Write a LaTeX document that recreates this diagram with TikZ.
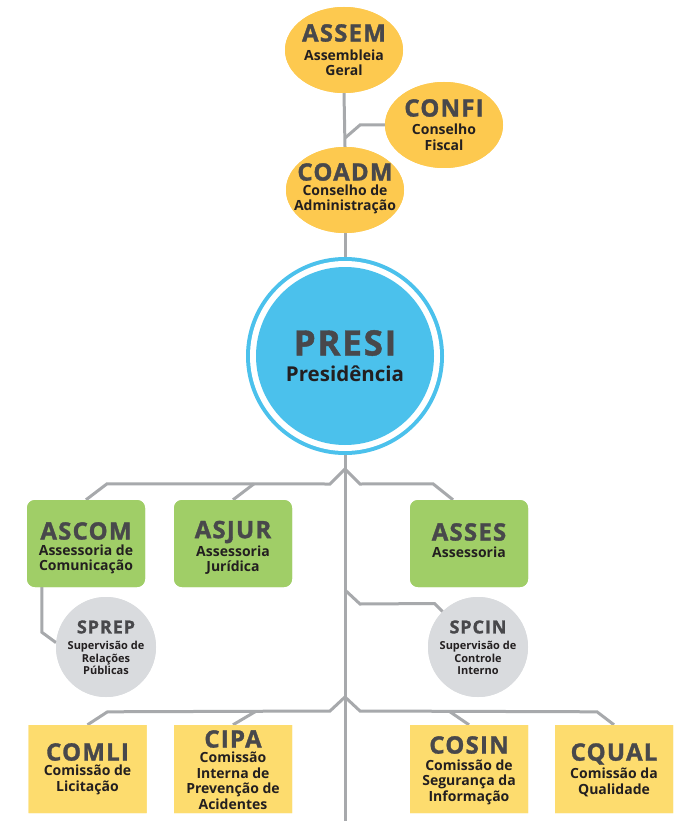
\documentclass[tikz,border=0pt]{standalone}
\usepackage{fontspec}
\setmainfont{Open Sans}
\newfontfamily\ttlfont[LetterSpace=5,BoldFeatures={FakeBold=1.3}]{Open Sans}
\usetikzlibrary{shapes.geometric,shapes.misc,calc}
\definecolor{ellY}{HTML}{FDC94F}
\definecolor{boxY}{HTML}{FDDC6E}
\definecolor{grn}{HTML}{A0CE67}
\definecolor{gry}{HTML}{D9DBDE}
\definecolor{lne}{HTML}{A7A9AC}
\definecolor{blu}{HTML}{4BC1EC}
\definecolor{ttl}{HTML}{48484B}
\definecolor{sub}{HTML}{231F20}
\tikzset{
  conn/.style={draw=lne,line width=3pt,line join=miter},
  ell/.style={ellipse,fill=ellY,minimum width=118pt,minimum height=86pt,inner sep=0pt},
  gbox/.style={rectangle,rounded corners=8pt,fill=grn,minimum width=118pt,minimum height=87pt,inner sep=0pt},
  ybox/.style={chamfered rectangle,chamfered rectangle xsep=9pt,chamfered rectangle ysep=9pt,fill=boxY,minimum width=118pt,minimum height=88pt,inner sep=0pt},
  gcirc/.style={circle,fill=gry,minimum size=100pt,inner sep=0pt},
  tbig/.style={text=ttl,font=\ttlfont\bfseries\fontsize{24}{24}\selectfont,inner sep=0pt},
  tmid/.style={text=ttl,font=\ttlfont\bfseries\fontsize{18}{18}\selectfont,inner sep=0pt},
  tsub/.style={text=sub,font=\bfseries\fontsize{14}{15.5}\selectfont,align=center,inner sep=0pt},
  tsm/.style={text=sub,font=\bfseries\fontsize{11}{12.5}\selectfont,align=center,inner sep=0pt}
}
\begin{document}
\begin{tikzpicture}[x=1pt,y=-1pt]
\useasboundingbox[fill=white] (0,0) rectangle (683,821);
% shapes
\node[ell] (assem) at (344,50) {};
\node[ell] (confi) at (444,125) {};
\node[ell] (coadm) at (345,190) {};
\node[circle,fill=blu,minimum size=198pt,inner sep=0pt] (presi) at (345,356) {};
\node[circle,fill=white,minimum size=190pt,inner sep=0pt] (presiw) at (345,356) {};
\node[circle,fill=blu,minimum size=178pt,inner sep=0pt] (presii) at (345,356) {};
\node[gbox] (ascom) at (86,543.5) {};
\node[gbox] (asjur) at (233,543.5) {};
\node[gbox] (asses) at (469,543.5) {};
\node[gcirc] (sprep) at (106,647) {};
\node[gcirc] (spcin) at (478,647) {};
\node[ybox] (comli) at (87.5,769) {};
\node[ybox] (cipa) at (233,769) {};
\node[ybox] (cosin) at (469,769) {};
\node[ybox] (cqual) at (614,769) {};
\coordinate (bot) at (345,822);
\coordinate (ja) at (345,138);
\coordinate (jb) at (345,469);
\coordinate (jc) at (345,590);
\coordinate (jd) at (345,697);
% connectors
\draw[conn] (assem.south) -- (coadm.north);
\draw[conn] (ja) -- ++(15,-13) -- (confi.west);
\draw[conn] (coadm.south) -- (presi.north);
\draw[conn] (presi.south) -- (bot);
\draw[conn] (ascom.north) -- ++(21,-16) -- ($(jb)+(-15,15)$) -- (jb);
\draw[conn] (asjur.north) -- ++(21,-16);
\draw[conn] (jb) -- ++(15,15) -- ($(asses.north)+(-36,-16)$) -- ($(asses.north)+(-16,0)$);
\draw[conn] (jc) -- ++(15,14) -- ($(spcin.north west)+(-8,-8)$) -- (spcin.north west);
\draw[conn] ($(ascom.south west)+(15,0)$) -- ($(ascom.south west)+(15,45)$) -- (sprep.175);
\draw[conn] (comli.north) -- ++(20,-13) -- ($(jd)+(-15,14)$) -- (jd);
\draw[conn] (cipa.north) -- ++(22,-13);
\draw[conn] (jd) -- ++(15,14) -- ($(cqual.north)+(-17,-13)$) -- (cqual.north);
\draw[conn] ($(cosin.north)+(-19,-13)$) -- (cosin.north);
% redraw shapes over connectors
\node[ell] at (assem) {};
\node[ell] at (confi) {};
\node[ell] at (coadm) {};
\node[gbox] at (ascom) {};
\node[gbox] at (asjur) {};
\node[gbox] at (asses) {};
\node[gcirc] at (sprep) {};
\node[gcirc] at (spcin) {};
\node[ybox] at (comli) {};
\node[ybox] at (cipa) {};
\node[ybox] at (cosin) {};
\node[ybox] at (cqual) {};
% texts
\node[tbig] (t1) at (344,33) {ASSEM};
\node[tsub] (s1) at (344,63) {Assembleia\\Geral};
\node[tbig] (t2) at (444,108) {CONFI};
\node[tsub] (s2) at (444,137.5) {Conselho\\Fiscal};
\node[tbig] (t3) at (345,172) {COADM};
\node[tsub] (s3) at (345,199.5) {Conselho de\\Administração};
\node[text=ttl,font=\ttlfont\bfseries\fontsize{35}{35}\selectfont,inner sep=0pt] (t4) at (345,343) {PRESI};
\node[text=sub,font=\bfseries\fontsize{20.5}{20.5}\selectfont,inner sep=0pt] (s4) at (345,374) {Presidência};
\node[tbig] (t5) at (86,531) {ASCOM};
\node[tsub] (s5) at (86,559.5) {Assessoria de\\Comunicação};
\node[tbig] (t6) at (233,532) {ASJUR};
\node[tsub] (s6) at (233,560) {Assessoria\\Jurídica};
\node[tbig] (t7) at (469,532) {ASSES};
\node[tsub] (s7) at (469,552) {Assessoria};
\node[tmid] (t8) at (106,627) {SPREP};
\node[tsm] (s8) at (106,658) {Supervisão de\\Relações\\Públicas};
\node[tmid] (t9) at (478,627) {SPCIN};
\node[tsm] (s9) at (478,658) {Supervisão de\\Controle\\Interno};
\node[tbig] (t10) at (87.5,752) {COMLI};
\node[tsub] (s10) at (87.5,780) {Comissão de\\Licitação};
\node[tbig] (t11) at (233,739) {CIPA};
\node[tsub] (s11) at (233,780.5) {Comissão\\Interna de\\Prevenção de\\Acidentes};
\node[tbig] (t12) at (469,745) {COSIN};
\node[tsub] (s12) at (469,782) {Comissão de\\Segurança da\\Informação};
\node[tbig] (t13) at (614,754) {CQUAL};
\node[tsub] (s13) at (614,782.5) {Comissão da\\Qualidade};
\end{tikzpicture}
\end{document}
